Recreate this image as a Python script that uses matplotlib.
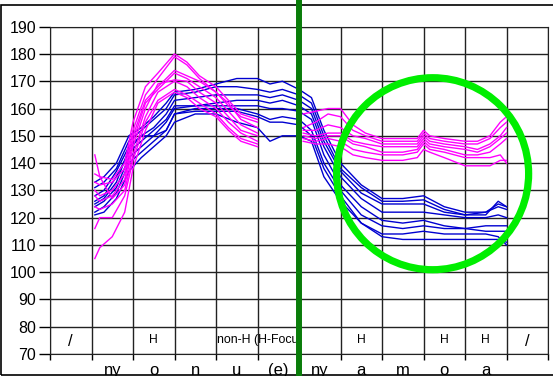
import matplotlib
matplotlib.use("Agg")
import matplotlib.pyplot as plt
from matplotlib.patches import Ellipse, Rectangle
from matplotlib.lines import Line2D
from matplotlib.transforms import blended_transform_factory, Bbox, TransformedBbox

plt.rcParams['font.family'] = ['Liberation Sans', 'DejaVu Sans']

# syllables under the columns
syllables = ["ny", "o", "n", "u", "(e)", "ny", "a", "m", "o", "a"]
# labels inside the bottom band (column index, text)
band_labels = [(2, "H"), (7, "H"), (9, "H"), (10, "H")]
band_slashes = [0, 11]
focus_label = "non-H (H-Focus)"

# blue contours (whole utterance)
blue_x = [1.08, 1.3, 1.6, 1.9, 2.2, 2.5, 2.8, 3.0, 3.5, 4.0, 4.5, 5.0, 5.3, 5.6,
          6.0, 6.3, 6.6, 7.0, 7.5, 8.0, 8.5, 9.0, 9.5, 10.0, 10.5, 10.8, 11.0]
blue_1 = [133, 135, 140, 150, 153, 157, 162, 166, 167, 169, 171, 171, 169, 170,
          167, 164, 152, 140, 132, 127, 127, 128, 124, 122, 122, 125, 124]
blue_2 = [131, 133, 138, 148, 152, 156, 160, 165, 166, 168, 168, 167, 166, 167,
          165, 162, 150, 138, 131, 126, 126, 126.5, 123, 121, 121, 126, 124]
blue_3 = [128, 130, 137, 146, 150, 153, 158, 163, 164, 165, 165, 165, 164, 165,
          163, 160, 148, 137, 129, 125, 125, 125, 122, 121, 122, 124, 123]
blue_4 = [126, 128, 135, 144, 148, 152, 156, 161, 161, 162, 163, 163, 162, 163,
          161, 158, 146, 135, 127, 122, 122, 122, 121, 120, 120, 121, 120]
blue_5 = [124, 126, 131, 142, 146, 150, 155, 160, 161, 161, 161, 161, 160, 160,
          159, 156, 143, 132, 124, 119, 118, 119, 117, 116, 117, 117, 117]
blue_6 = [122, 124, 129, 140, 144, 148, 152, 158, 160, 160, 160, 158, 156, 157,
          156, 152, 140, 130, 121, 117, 116, 117, 116, 116, 115, 115, 115]
blue_7 = [121, 122, 127, 137, 142, 146, 150, 155, 158, 158, 155, 153, 148, 150,
          150, 148, 135, 126, 118, 114, 114, 115, 114, 114, 114, 113, 110]
blue_8 = [125, 127, 133, 145, 150, 150, 152, 158, 159, 159, 159, 157, 155, 155,
          154, 150, 138, 128, 118, 113, 112, 112, 112, 112, 112, 112, 111]
blue_lines = [blue_1, blue_2, blue_3, blue_4, blue_5, blue_6, blue_7, blue_8]

# magenta contours, first part
mag_a_x = [1.08, 1.2, 1.5, 1.8, 2.0, 2.3, 2.6, 3.0, 3.3, 3.6, 4.0, 4.3, 4.6, 5.0]
mag_a_1 = [136, 135, 134, 140, 155, 168, 173, 180, 177, 172, 168, 163, 158, 156]
mag_a_2 = [133, 132, 133, 138, 152, 165, 171, 179, 176, 171, 166, 161, 157, 155]
mag_a_3 = [130, 128, 130, 136, 150, 163, 168, 174, 172, 170, 166, 162, 156, 153]
mag_a_4 = [128, 126, 128, 134, 148, 162, 167, 173, 171, 168, 164, 159, 154, 151]
mag_a_5 = [143, 135, 127, 132, 146, 160, 169, 170.5, 170, 166, 162, 157, 152, 150]
mag_a_6 = [124, 123, 125, 130, 143, 157, 166, 170, 168, 164, 160, 155, 151, 148]
mag_a_7 = [116, 120, 120, 128, 141, 155, 163, 167, 165, 162, 158, 153, 149, 147]
mag_a_8 = [105, 109, 113, 122, 138, 152, 162, 166, 164, 160, 157, 152, 148, 146]
mag_a_lines = [mag_a_1, mag_a_2, mag_a_3, mag_a_4, mag_a_5, mag_a_6, mag_a_7, mag_a_8]

# magenta contours, second part
mag_b_x = [6.1, 6.4, 6.7, 7.0, 7.3, 7.6, 8.0, 8.5, 8.85, 9.0, 9.15, 9.5, 10.0,
           10.3, 10.6, 10.85, 11.0]
mag_b_1 = [158, 159, 160, 160, 154, 151, 149, 149, 149, 152, 150, 149, 148, 148, 150, 155, 157]
mag_b_2 = [153, 155, 158, 157, 152, 150, 148, 148, 148, 151, 149, 148, 147, 147, 149, 153, 155]
mag_b_3 = [152, 152, 154, 153, 150, 149, 147, 147, 147, 150, 148, 147, 146, 145, 147, 150, 153]
mag_b_4 = [151, 150, 151, 151, 148, 147, 146, 146, 146, 149, 147, 146, 145, 144, 146, 149, 151]
mag_b_5 = [150, 149, 150, 150, 147, 146, 144, 144, 145, 148, 146, 145, 143, 143, 144, 147, 149]
mag_b_6 = [149, 148, 149, 148, 145, 144, 143, 143, 144, 147, 145, 144, 142, 142, 142, 143, 140]
mag_b_7 = [148, 147, 147, 146, 143, 142, 141, 141, 142, 145, 144, 142, 139, 139, 139, 141, 141]
mag_b_lines = [mag_b_1, mag_b_2, mag_b_3, mag_b_4, mag_b_5, mag_b_6, mag_b_7]

n_cols = 12
split_col = 6
circle_center = (9.22, 136.1)

fig = plt.figure(figsize=(5.53, 3.76), dpi=100)
ax = fig.add_axes([50 / 553, 1 - 354 / 376, 498 / 553, (354 - 26.7) / 376])

for ys in blue_lines:
    ax.plot(blue_x, ys, color='#0000d0', lw=1.0)
for ys in mag_a_lines:
    ax.plot(mag_a_x, ys, color='#ff00ff', lw=1.0)
for ys in mag_b_lines:
    ax.plot(mag_b_x, ys, color='#ff00ff', lw=1.0)

ax.set_xlim(0, n_cols)
ax.set_ylim(70, 190)
ax.set_yticks(range(70, 191, 10))
ax.set_xticks(range(0, n_cols + 1))
ax.set_xticklabels([])
ax.set_xticks([i + 0.5 for i in range(1, 11)], minor=True)
ax.set_xticklabels(syllables, minor=True, fontsize=12)
ax.tick_params(axis='x', which='major', length=4, width=1, direction='out')
ax.tick_params(axis='x', which='minor', length=0, pad=6.5)
ax.tick_params(axis='y', length=8, width=1, labelsize=11.5, pad=2)
ax.grid(True, color='#222222', lw=1)
for s in ax.spines.values():
    s.set_color('#222222')

# bottom band texts
for col, txt in band_labels:
    ax.text(col + 0.5, 75, txt, ha='center', va='center', fontsize=8.7)
for col in band_slashes:
    ax.text(col + 0.5, 74.5, "/", ha='center', va='center', fontsize=12)
t = ax.text(4.02, 75, focus_label, ha='left', va='center', fontsize=8.9)
t.set_clip_box(TransformedBbox(Bbox([[4, 70], [split_col, 80]]), ax.transData))
t.set_clip_on(True)

# green circle around the second part
ell = Ellipse(circle_center, 2 * 96 / 41.5, 2 * 96 / 2.7275, fill=False,
              edgecolor='#00ee00', lw=5.2, zorder=5)
ax.add_patch(ell)

# thick split line across the whole figure
tr = blended_transform_factory(ax.transData, fig.transFigure)
fig.add_artist(Line2D([split_col, split_col], [0, 1], transform=tr,
                      color='#0a7d0a', lw=4.3, zorder=10))

# outer frame
fig.add_artist(Rectangle((1 / 553, 1 / 376), 1.2, 370 / 376, transform=fig.transFigure,
                         fill=False, edgecolor='black', lw=1.2))

fig.savefig("out.png", dpi=100)
